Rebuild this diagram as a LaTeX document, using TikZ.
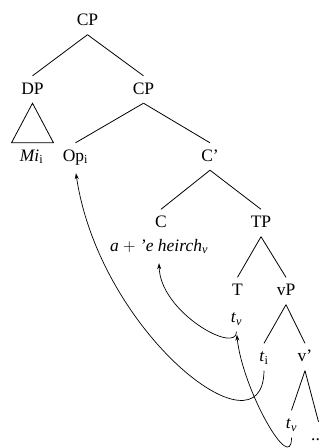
\documentclass[tikz,border=0pt]{standalone}
\usepackage{fontspec}
\setmainfont{Liberation Serif}
\usetikzlibrary{arrows.meta}

\begin{document}
\begin{tikzpicture}[x=1pt,y=-1pt,
  font=\fontsize{17.5}{21}\selectfont,
  lbl/.style={inner sep=6pt,text height=12pt,text depth=3pt},
  br/.style={line width=0.8pt},
  mv/.style={line width=0.7pt,-{Stealth[length=6pt,width=4pt]},shorten >=3pt}]
  \useasboundingbox (0,0) rectangle (321,448);
  % labels of the tree
  \node[lbl] (cp0) at (87.5,21) {CP};
  \node[lbl] (dp) at (32.5,89.5) {DP};
  \node[lbl] (cp1) at (143.5,89.5) {CP};
  \node[lbl] (mi) at (31.5,156.5) {\textit{Mi}\textsubscript{i}};
  \node[lbl] (op) at (75.5,156.5) {Op\textsubscript{i}};
  \node[lbl] (cbar) at (210,156.5) {C’};
  \node[lbl] (c) at (161,223) {C};
  \node[lbl] (tp) at (261,223) {TP};
  \node[lbl] (cw) at (159,246.5) {\textit{a} $+$ \textit{’e heirch}\textsubscript{\textit{v}}};
  \node[lbl] (t) at (237.5,291) {T};
  \node[lbl] (vp) at (286,291) {vP};
  \node[lbl] (tv) at (236.5,318) {\textit{t}\textsubscript{\textit{v}}};
  \node[lbl] (ti) at (264,357) {\textit{t}\textsubscript{i}};
  \node[lbl] (vbar) at (305,357) {v’};
  \node[lbl] (tvl) at (291.5,424) {\textit{t}\textsubscript{\textit{v}}};
  \node[lbl] (dots) at (315.5,435.5) {..};
  % branches
  \draw[br] (cp0.south) -- (dp.north);
  \draw[br] (cp0.south) -- (cp1.north);
  \draw[br] (dp.south) -- ([xshift=-21pt]dp.south |- mi.north)
    -- ([xshift=21pt]dp.south |- mi.north) -- cycle;
  \draw[br] (cp1.south) -- (op.north);
  \draw[br] (cp1.south) -- (cbar.north);
  \draw[br] (cbar.south) -- (c.north);
  \draw[br] (cbar.south) -- (tp.north);
  \draw[br] (tp.south) -- (t.north);
  \draw[br] (tp.south) -- (vp.north);
  \draw[br] (vp.south) -- (ti.north);
  \draw[br] (vp.south) -- (vbar.north);
  \draw[br] (vbar.south) -- (tvl.north);
  \draw[br] (vbar.south) -- ([xshift=3pt]dots.north);
  % movement
  \draw[mv] (ti.south) .. controls +(-1,90) and +(24,162) .. (op.south);
  \draw[mv] (tvl.south) .. controls +(0,38) and +(6,58) .. (tv.south);
  \draw[mv] (tv.south) .. controls +(0,23) and +(1,52) .. (cw.south);
\end{tikzpicture}
\end{document}
